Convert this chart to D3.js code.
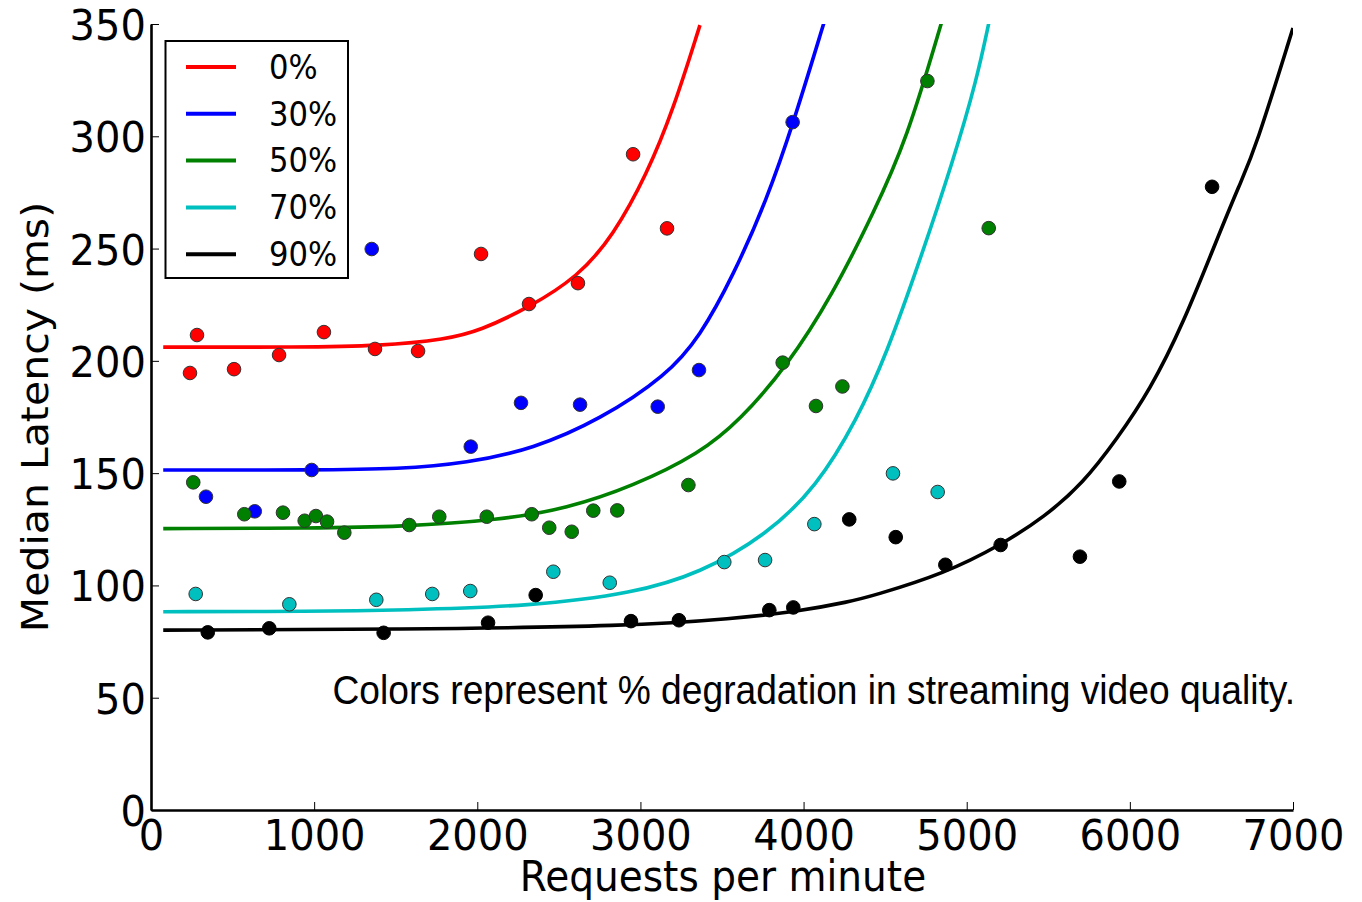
<!DOCTYPE html>
<html>
<head>
<meta charset="utf-8">
<script src="https://cdn.jsdelivr.net/npm/d3@7"></script>
<style>
  html, body { margin: 0; padding: 0; background: #fff; }
  svg { display: block; }
</style>
</head>
<body>
<svg id="chart" width="1362" height="902"></svg>
<script>
// ---------------- data ----------------
const seriesNames = ["0%", "30%", "50%", "70%", "90%"];
const xTicks = [0, 1000, 2000, 3000, 4000, 5000, 6000, 7000];
const yTicks = [0, 50, 100, 150, 200, 250, 300, 350];
const xTitle = "Requests per minute";
const yTitle = "Median Latency (ms)";
const noteText = "Colors represent % degradation in streaming video quality.";

// measured points [requests/min, latency ms]
const points0 = [[239,194.6],[282,211.5],[509,196.3],[785,202.6],[1060,212.8],[1373,205.3],[1637,204.4],[2023,247.6],[2317,225.3],[2617,234.6],[2955,292],[3163,259]];
const points30 = [[337,139.5],[636,133],[985,151.4],[1353,249.8],[1960,161.8],[2268,181.3],[2630,180.5],[3106,179.6],[3359,195.9],[3933,306.3]];
const points50 = [[259,145.9],[572,131.7],[809,132.4],[942,128.8],[1011,130.9],[1079,128.4],[1185,123.5],[1583,126.9],[1767,130.6],[2058,130.6],[2334,131.7],[2441,125.7],[2579,123.9],[2711,133.3],[2858,133.4],[3294,144.7],[3872,199.2],[4076,179.9],[4238,188.6],[4759,324.6],[5135,259.1]];
const points70 = [[274,96.2],[848,91.6],[1381,93.6],[1724,96.2],[1957,97.5],[2466,106.1],[2812,101.2],[3514,110.4],[3764,111.3],[4066,127.3],[4548,149.9],[4822,141.6]];
const points90 = [[348,79.1],[725,80.9],[1426,78.9],[2066,83.4],[2358,95.7],[2942,84.1],[3236,84.5],[3790,89.0],[3937,90.2],[4280,129.4],[4565,121.5],[4869,109.2],[5208,118.0],[5694,112.8],[5935,146.3],[6504,277.5]];

// fitted curves
const fit0 = [[75,206.1],[913,206.1],[1404,206.6],[1813,209.6],[2017,213.5],[2313,223.6],[2619,237.5],[2834,255.8],[3039,283],[3202,312],[3365,349.5]];
const fit30 = [[75,151.4],[1000,151.4],[1526,151.8],[1935,154.4],[2343,160.8],[2752,173.8],[3161,193.5],[3365,210.8],[3569,238],[3774,271.6],[3937,305.7],[4131,352]];
const fit50 = [[75,125.3],[1000,125.5],[1526,126.1],[2139,129.1],[2548,134.2],[2956,144.2],[3365,158.8],[3610,173.6],[3897,197.4],[4182,230],[4427,265.7],[4632,298.3],[4847,351]];
const fit70 = [[75,88.3],[1000,88.4],[1526,89],[2343,90.8],[2956,96.5],[3365,105.4],[3774,122.5],[4081,144],[4326,173.6],[4510,203.3],[4714,244.9],[4918,289.4],[5061,325],[5140,352]];
const fit90 = [[75,80.1],[1526,80.4],[2956,81.9],[3569,85.2],[3952,88.2],[4285,92.8],[4422,95.3],[4868,105.4],[5209,118],[5479,130.6],[5713,145.5],[5919,165],[6124,187],[6328,216.7],[6532,253.8],[6675,279],[6767,293.9],[7000,348.2]];

const allPoints = [points0, points30, points50, points70, points90];
const allFits = [fit0, fit30, fit50, fit70, fit90];

// ---------------- styles ----------------
const colors = ["#ff0000", "#0000ff", "#008000", "#00bfbf", "#000000"];
const SQ = 0.93; // horizontal squeeze of glyphs seen in the reference

const svg = d3.select("#chart");
const x = d3.scaleLinear().domain([0, 7000]).range([151, 1293]);
const y = d3.scaleLinear().domain([0, 350]).range([810, 24]);

svg.append("defs").append("clipPath").attr("id", "plotclip")
  .append("rect").attr("x", x(0)).attr("y", y(350)).attr("width", x(7000) - x(0)).attr("height", y(0) - y(350));

// fitted curves
const line = d3.line().x(d => x(d[0])).y(d => y(d[1])).curve(d3.curveBasis);
const curveG = svg.append("g").attr("clip-path", "url(#plotclip)");
allFits.forEach((f, i) => {
  curveG.append("path").datum(f)
    .attr("d", line)
    .attr("fill", "none")
    .attr("stroke", colors[i])
    .attr("stroke-width", 3.6)
    .attr("stroke-linejoin", "round");
});

// scatter points
const ptG = svg.append("g");
allPoints.forEach((pts, i) => {
  ptG.selectAll(null).data(pts).enter().append("circle")
    .attr("cx", d => x(d[0]))
    .attr("cy", d => y(d[1]))
    .attr("r", 6.8)
    .attr("fill", colors[i])
    .attr("stroke", i === 4 ? "#000" : "#333")
    .attr("stroke-width", 1);
});

// axes
const fontAxis = "'DejaVu Sans', sans-serif";
const xAxis = svg.append("g").attr("transform", `translate(0,${y(0)})`)
  .call(d3.axisBottom(x).tickValues(xTicks).tickFormat(d3.format("d")).tickSizeInner(-8).tickSizeOuter(0));
xAxis.select(".domain").attr("stroke", "#000").attr("stroke-width", 2.6);
xAxis.selectAll(".tick line").attr("stroke", "#000").attr("stroke-width", 1);
xAxis.selectAll(".tick text")
  .attr("y", 9).attr("dy", "0.71em")
  .attr("fill", "#000")
  .style("font-family", fontAxis).style("font-size", "43px")
  .attr("transform", `scale(${SQ},1)`);

const yAxis = svg.append("g").attr("transform", `translate(${x(0)},0)`)
  .call(d3.axisLeft(y).tickValues(yTicks).tickFormat(d3.format("d")).tickSizeInner(-8).tickSizeOuter(0));
yAxis.select(".domain").attr("stroke", "#000").attr("stroke-width", 2.6);
yAxis.selectAll(".tick line").attr("stroke", "#000").attr("stroke-width", 1);
yAxis.selectAll(".tick text")
  .attr("x", -5.5).attr("dy", "0.36em")
  .attr("fill", "#000")
  .style("font-family", fontAxis).style("font-size", "43px")
  .attr("transform", `scale(${SQ},1)`);

// axis titles
svg.append("text")
  .attr("transform", `translate(${(x(0) + x(7000)) / 2 + 1},891) scale(${SQ},1)`)
  .attr("text-anchor", "middle")
  .style("font-family", fontAxis).style("font-size", "42px")
  .text(xTitle);

svg.append("text")
  .attr("transform", `translate(48,${(y(0) + y(350)) / 2}) rotate(-90) scale(1,${SQ})`)
  .attr("text-anchor", "middle")
  .style("font-family", fontAxis).style("font-size", "41px")
  .text(yTitle);

// note
svg.append("text")
  .attr("transform", `translate(1295,704) scale(${SQ},1)`)
  .attr("text-anchor", "end")
  .style("font-family", "'Liberation Sans', Arial, sans-serif").style("font-size", "40px")
  .text(noteText);

// legend
const leg = svg.append("g");
leg.append("rect").attr("x", 165.5).attr("y", 41).attr("width", 182.5).attr("height", 237)
  .attr("fill", "#fff").attr("stroke", "#000").attr("stroke-width", 2);
seriesNames.forEach((name, i) => {
  const cy = 67 + i * 46.8;
  leg.append("line").attr("x1", 186).attr("x2", 236).attr("y1", cy).attr("y2", cy)
    .attr("stroke", colors[i]).attr("stroke-width", 4);
  leg.append("text")
    .attr("transform", `translate(269,${cy}) scale(${SQ},1)`)
    .attr("dy", "0.36em")
    .style("font-family", fontAxis).style("font-size", "33px")
    .text(name);
});
</script>
</body>
</html>
